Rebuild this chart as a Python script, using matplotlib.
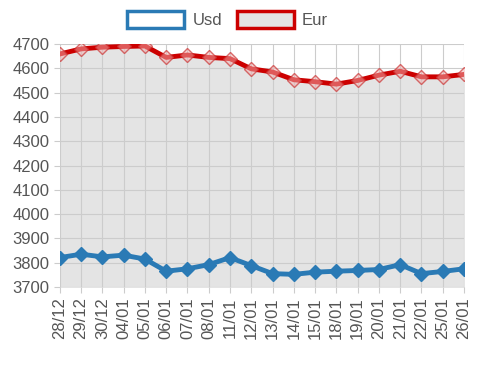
import matplotlib.pyplot as plt
from matplotlib.patches import Patch

dates = ["28/12", "29/12", "30/12", "04/01", "05/01", "06/01", "07/01", "08/01",
         "11/01", "12/01", "13/01", "14/01", "15/01", "18/01", "19/01", "20/01",
         "21/01", "22/01", "25/01", "26/01"]
usd = [3821, 3835, 3824, 3831, 3815, 3765, 3775, 3792, 3821, 3788,
       3755, 3752, 3761, 3765, 3768, 3772, 3792, 3755, 3764, 3775]
eur = [4659, 4680, 4687, 4690, 4692, 4645, 4655, 4645, 4640, 4598,
       4585, 4553, 4545, 4535, 4550, 4572, 4588, 4565, 4565, 4575]

blue = "#2a7ab5"
red = "#cc0000"
grey_text = "#555555"

plt.rcParams["font.family"] = ["Liberation Sans", "DejaVu Sans"]

fig = plt.figure(figsize=(4.9, 3.67), dpi=100)
ax = fig.add_axes([0.122, 0.218, 0.825, 0.662])
x = list(range(len(dates)))

ax.fill_between(x, eur, 3700, color="#e4e4e4", zorder=1)
ax.plot(x, eur, color=red, linewidth=3.5, zorder=3)
ax.plot(x, eur, linestyle="none", marker="D", markersize=7.5,
        markerfacecolor=(0.95, 0.7, 0.7, 0.5), markeredgecolor=(0.8, 0.2, 0.2, 0.7),
        markeredgewidth=1, zorder=4)
ax.plot(x, usd, color=blue, linewidth=3.5, marker="D", markersize=7.5,
        markerfacecolor=blue, markeredgecolor=blue, zorder=3)

ax.set_xlim(0, len(dates) - 1)
ax.set_ylim(3700, 4700)
ax.set_yticks(range(3700, 4701, 100))
ax.set_xticks(x)
ax.set_xticklabels(dates, rotation=90)
ax.tick_params(colors=grey_text, labelsize=12, length=4, color="#cccccc")
ax.grid(visible=True, color="#cccccc", linewidth=0.8, zorder=2)
ax.set_axisbelow(False)
for s in ax.spines.values():
    s.set_visible(False)

handles = [Patch(facecolor="white", edgecolor=blue, linewidth=2.5, label="Usd"),
           Patch(facecolor="#e4e4e4", edgecolor=red, linewidth=2.5, label="Eur")]
fig.legend(handles=handles, loc="upper center", bbox_to_anchor=(0.465, 1.01), ncol=2,
           frameon=False, fontsize=12, handlelength=3.4, handleheight=1.2,
           columnspacing=0.9, handletextpad=0.5, labelcolor=grey_text)

fig.savefig("out.png")
plt.close()
